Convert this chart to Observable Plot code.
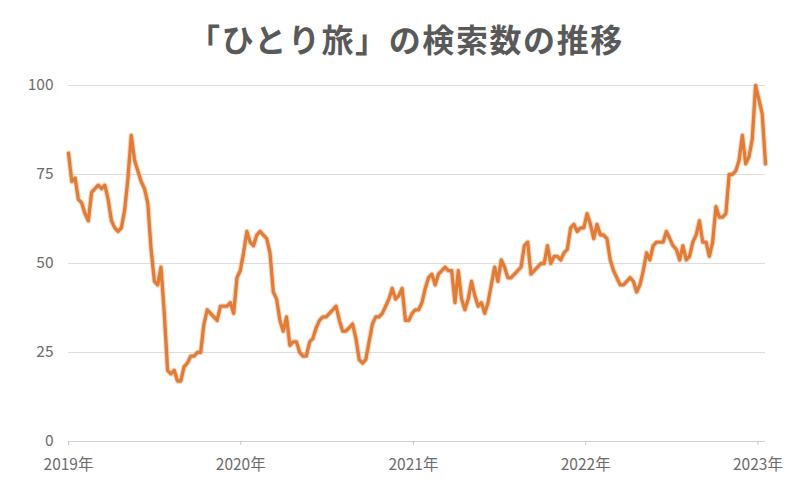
<!DOCTYPE html>
<html>
<head>
<meta charset="utf-8">
<script src="https://cdn.jsdelivr.net/npm/d3@7"></script>
<script src="https://cdn.jsdelivr.net/npm/@observablehq/plot@0.6"></script>
<style>
  html, body { margin: 0; padding: 0; background: #fff; }
  #title {
    height: 70px; line-height: 76px; text-align: center;
    font-family: "Noto Sans CJK JP", "Noto Sans", sans-serif;
    font-weight: bold; font-size: 32px; letter-spacing: 1.6px; color: #595959;
    padding-left: 12px; box-sizing: border-box; width: 800px;
  }
</style>
</head>
<body>
<div id="title">「ひとり旅」の検索数の推移</div>
<div id="chart"></div>
<script>
const titleText = "「ひとり旅」の検索数の推移";
const startDate = "2019-01-01";
const weeklyValues = [
  81,73,74,68,67,64,62,70,71,72,71,72,68,62,60,59,60,65,74,86,
  79,76,73,71,67,54,45,44,49,36,20,19,20,17,17,21,22,24,24,25,
  25,33,37,36,35,34,38,38,38,39,36,46,48,53,59,56,55,58,59,58,
  57,53,42,40,34,31,35,27,28,28,25,24,24,28,29,32,34,35,35,36,
  37,38,34,31,31,32,33,29,23,22,23,28,33,35,35,36,38,40,43,40,
  41,43,34,34,36,37,37,39,43,46,47,44,47,48,49,48,48,39,48,40,
  37,40,45,41,38,39,36,39,44,49,45,51,49,46,46,47,48,49,55,56,
  47,48,49,50,50,55,50,52,52,51,53,54,60,61,59,60,60,64,61,57,
  61,58,58,57,51,48,46,44,44,45,46,45,42,44,48,53,51,55,56,56,
  56,59,57,55,54,51,55,51,52,56,58,62,56,56,52,56,66,63,63,64,
  75,75,76,79,86,78,80,85,100,96,92,78
];
const yTicks = [0, 25, 50, 75, 100];
const yearTicks = ["2019-01-01", "2020-01-01", "2021-01-01", "2022-01-01", "2023-01-01"];
const yearLabels = ["2019年", "2020年", "2021年", "2022年", "2023年"];

const t0 = new Date(startDate + "T00:00:00Z");
const data = weeklyValues.map((v, i) => ({
  date: new Date(t0.getTime() + i * 7 * 86400000),
  value: v
}));
const tickDates = yearTicks.map(s => new Date(s + "T00:00:00Z"));
const labelOf = d => yearLabels[tickDates.findIndex(t => +t === +d)];

const font = '"Noto Sans CJK JP", "Noto Sans", sans-serif';
const chart = Plot.plot({
  width: 800,
  height: 410,
  marginTop: 15,
  marginBottom: 39,
  marginLeft: 68,
  marginRight: 35,
  style: { fontFamily: font, fontSize: "15px", color: "#6b6b6b", background: "#fff" },
  x: { type: "utc", domain: [data[0].date, data[data.length - 1].date] },
  y: { domain: [0, 100] },
  marks: [
    Plot.gridY(yTicks, { stroke: "#dcdcdc", strokeOpacity: 1, strokeWidth: 1 }),
    Plot.ruleY([0], { stroke: "#d0d0d0", strokeWidth: 1.2 }),
    Plot.lineY(data, { x: "date", y: "value", stroke: "#e9a877", strokeWidth: 5.5, strokeOpacity: 0.45, strokeLinejoin: "round" }),
    Plot.lineY(data, { x: "date", y: "value", stroke: "#e07c37", strokeWidth: 3.3, strokeLinejoin: "round" }),
    Plot.axisY({ ticks: yTicks, tickSize: 0, tickPadding: 15, fill: "#6b6b6b", fontSize: 15.5, label: null }),
    Plot.axisX({ ticks: tickDates, tickFormat: labelOf, tickSize: 4, tickPadding: 13, stroke: "#c8c8c8", fill: "#6b6b6b", fontSize: 15.5, label: null })
  ]
});
document.getElementById("chart").appendChild(chart);
</script>
</body>
</html>
